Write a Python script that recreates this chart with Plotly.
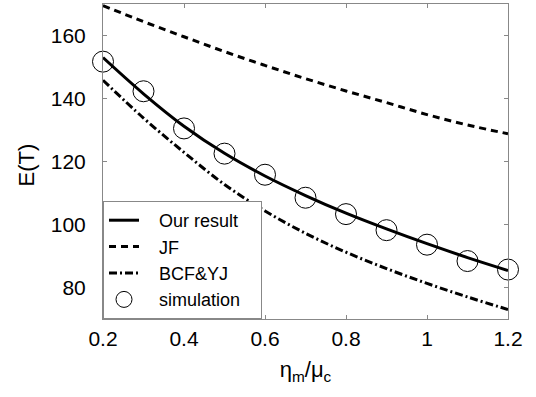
import plotly.graph_objects as go

x_curve = [0.2, 0.3, 0.4, 0.5, 0.6, 0.7, 0.8, 0.9, 1.0, 1.1, 1.2]
our_result = [153.0, 141.5, 131.2, 122.6, 115.4, 109.2, 103.6, 98.6, 93.9, 89.5, 85.4]
jf = [169.5, 164.4, 159.6, 154.9, 150.5, 146.3, 142.4, 138.7, 134.9, 131.6, 128.8]
bcf_yj = [145.8, 133.8, 122.9, 112.7, 104.3, 97.2, 91.2, 86.0, 81.3, 77.0, 73.0]

x_sim = [0.2, 0.3, 0.4, 0.5, 0.6, 0.7, 0.8, 0.9, 1.0, 1.1, 1.2]
simulation = [151.7, 142.3, 130.5, 122.5, 115.8, 108.5, 103.3, 98.2, 93.6, 88.4, 85.7]

x_ticks = [0.2, 0.4, 0.6, 0.8, 1.0, 1.2]
x_ticklabels = ["0.2", "0.4", "0.6", "0.8", "1", "1.2"]
y_ticks = [80, 100, 120, 140, 160]
series_names = ["Our result", "JF", "BCF&YJ", "simulation"]

FONT = "Liberation Sans, Arial, Helvetica, sans-serif"
LPAD = "\u00a0" * 3
RPAD = "\u00a0" * 3


def label(name):
    return LPAD + name + RPAD


fig = go.Figure()
fig.add_trace(go.Scatter(x=x_curve, y=our_result, mode="lines", name=label(series_names[0]),
                         line=dict(color="black", width=3, shape="spline")))
fig.add_trace(go.Scatter(x=x_curve, y=jf, mode="lines", name=label(series_names[1]),
                         line=dict(color="black", width=3, dash="7px,5px", shape="spline")))
fig.add_trace(go.Scatter(x=x_curve, y=bcf_yj, mode="lines", name=label(series_names[2]),
                         line=dict(color="black", width=3, dash="8px,3px,2px,3px", shape="spline")))
fig.add_trace(go.Scatter(x=x_sim, y=simulation, mode="markers", name=label(series_names[3]),
                         cliponaxis=False,
                         marker=dict(symbol="circle-open", size=21, color="black",
                                     line=dict(width=1, color="black"))))

axis_common = dict(showline=True, linecolor="#888888", linewidth=1, mirror="ticks",
                   ticks="inside", ticklen=4, tickcolor="#888888", showgrid=False,
                   zeroline=False, tickfont=dict(family=FONT, size=21, color="black"))

fig.update_xaxes(range=[0.2, 1.2], tickvals=x_ticks, ticktext=x_ticklabels,
                 ticklabelstandoff=1,
                 title=dict(text="η<sub>m</sub>/μ<sub>c</sub>", standoff=12,
                            font=dict(family=FONT, size=22, color="black")),
                 **axis_common)
fig.update_yaxes(range=[70, 170], tickvals=y_ticks, ticklabelstandoff=12,
                 **axis_common)

fig.add_annotation(text="E(T)", textangle=-90, xref="paper", yref="paper",
                   x=-0.188, y=0.49, xanchor="center", yanchor="middle",
                   showarrow=False, font=dict(family=FONT, size=22, color="black"))

fig.update_layout(
    width=536, height=397,
    margin=dict(l=103, r=28, t=4, b=78),
    paper_bgcolor="white", plot_bgcolor="white",
    font=dict(family=FONT, color="black"),
    legend=dict(x=0, y=0, xanchor="left", yanchor="bottom",
                bgcolor="white", bordercolor="#888888", borderwidth=1,
                font=dict(family=FONT, size=18, color="black"),
                tracegroupgap=0),
)

fig.write_html("out.html", config={"displayModeBar": False},
               post_script="document.body.style.margin='0';document.body.style.padding='0';")
